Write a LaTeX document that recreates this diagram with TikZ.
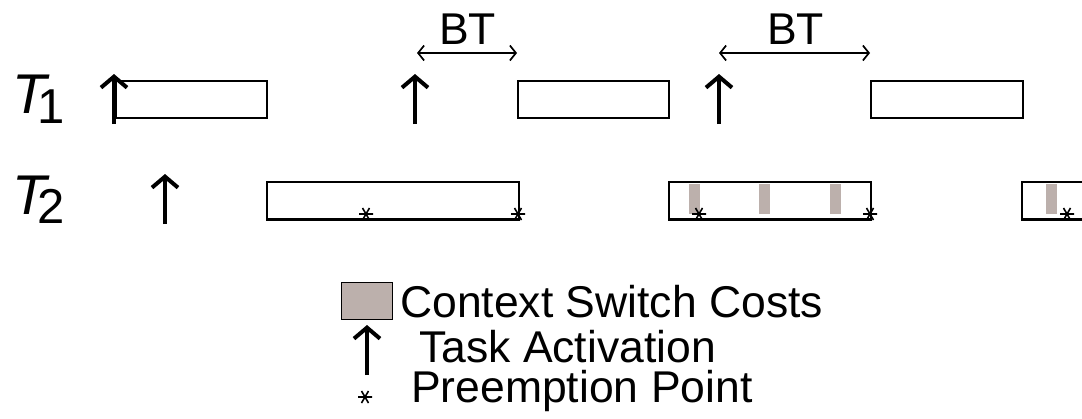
\documentclass[tikz,border=0pt]{standalone}
\usepackage{fontspec}
\setmainfont{Liberation Sans}
\usetikzlibrary{arrows.meta}
\definecolor{csgray}{RGB}{188,176,172}
\begin{document}
\begin{tikzpicture}[x=1pt,y=-1pt,
  job/.style={draw=black, line width=1.5pt, anchor=north west, inner sep=0pt,
              minimum height=37pt},
  cswitch/.style={fill=csgray, draw=none, anchor=north west, inner sep=0pt,
                  minimum width=11pt, minimum height=30pt},
  act/.style={line width=4.4pt, -{Straight Barb[length=11pt,width=26pt,line width=4pt]}},
  bt/.style={line width=1.7pt, {Straight Barb[length=6pt,width=15pt]}-{Straight Barb[length=6pt,width=15pt]}},
  pics/ast/.style={code={\draw[line width=1.6pt]
      (-7,0) -- (7,0) (-3.5,-6) -- (3.5,6) (3.5,-6) -- (-3.5,6);}},
  lbl/.style={inner sep=0pt, font=\fontsize{44.5pt}{50pt}\selectfont},
  task/.style={inner sep=0pt, anchor=base west, font=\fontsize{56pt}{60pt}\selectfont\itshape},
]
\useasboundingbox (0,0) rectangle (1082,418);
\clip (0,0) rectangle (1082,418);

% task names
\node[task] (t1) at (12,113) {T\kern-9pt\raisebox{-10pt}{\fontsize{49pt}{52pt}\selectfont\upshape 1}};
\node[task] (t2) at (12,214) {T\kern-9pt\raisebox{-9pt}{\fontsize{49pt}{52pt}\selectfont\upshape 2}};

% T1 jobs
\node[job, minimum width=151pt] (j11) at (115,80) {};
\node[job, minimum width=151pt] (j12) at (517,80) {};
\node[job, minimum width=152pt] (j13) at (870,80) {};

% T2 jobs
\node[job, minimum width=252pt] (j21) at (266,181) {};
\node[job, minimum width=202pt] (j22) at (668,181) {};
\node[job, minimum width=120pt] (j23) at (1021,181) {};
\foreach \j in {j21,j22,j23}
  \draw[line width=2.4pt] (\j.south west) -- (\j.south east);

% context switch costs
\node[cswitch] (c1) at (689,184) {};
\node[cswitch] (c2) at (759,184) {};
\node[cswitch] (c3) at (830,184) {};
\node[cswitch] (c4) at (1046,184) {};

% preemption points
\coordinate (p1) at (366,214);
\coordinate (p2) at (518,214);
\coordinate (p3) at (699,214);
\coordinate (p4) at (870,214);
\coordinate (p5) at (1067,214);
\foreach \p in {p1,p2,p3,p4,p5}
  \pic at (\p) {ast};

% task activations
\coordinate (a1) at (114,124);
\coordinate (a2) at (415,124);
\coordinate (a3) at (719,124);
\coordinate (a4) at (165,224);
\draw[act] (a1) -- ++(0,-50);
\draw[act] (a2) -- ++(0,-50);
\draw[act] (a3) -- ++(0,-50);
\draw[act] (a4) -- ++(0,-50);

% blocking times
\coordinate (b1l) at (417,53);
\coordinate (b1r) at (517,53);
\coordinate (b2l) at (719,53);
\coordinate (b2r) at (870,53);
\draw[bt] (b1l) -- (b1r);
\draw[bt] (b2l) -- (b2r);
\node[lbl, anchor=base] (bt1) at (467.5,44) {BT};
\node[lbl, anchor=base] (bt2) at (795.5,44) {BT};

% legend
\node[draw=black, line width=1.3pt, fill=csgray, anchor=north west, inner sep=0pt,
      minimum width=51pt, minimum height=37pt] (lcs) at (341,282) {};
\coordinate (la) at (367,375);
\draw[act] (la) -- ++(0,-50);
\coordinate (lpp) at (365,397);
\pic at (lpp) {ast};
\node[lbl, anchor=base west] (tcs) at (400,317) {Context Switch Costs};
\node[lbl, anchor=base west] (tta) at (419,362) {Task Activation};
\node[lbl, anchor=base west] (tpp) at (411,402) {Preemption Point};
\end{tikzpicture}
\end{document}
